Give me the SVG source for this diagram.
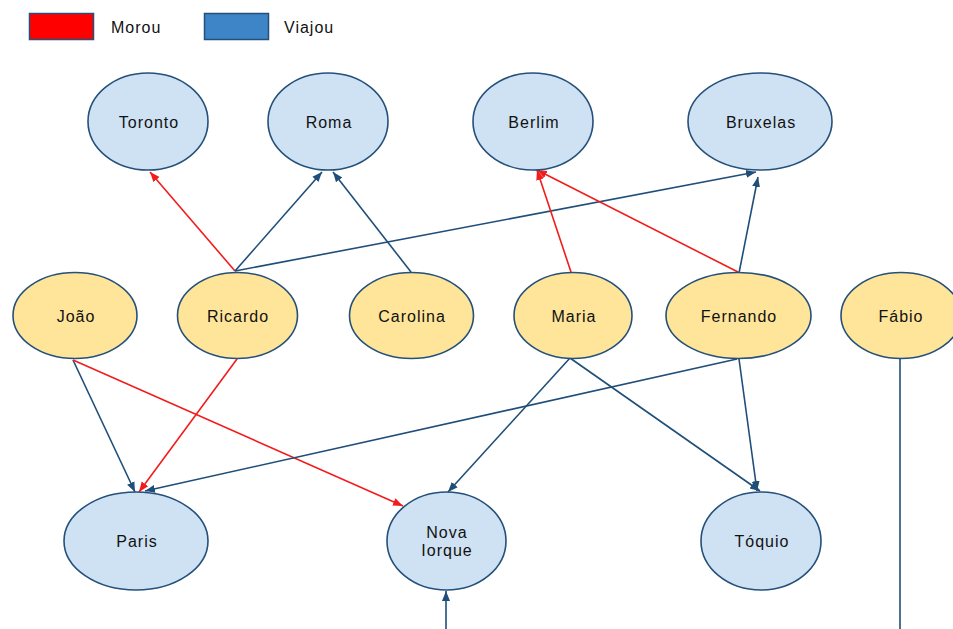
<svg xmlns="http://www.w3.org/2000/svg" width="953" height="629" viewBox="0 0 953 629">
<style>
text{font-family:"Liberation Sans",Arial,sans-serif;font-size:16px;letter-spacing:1px;fill:#111;text-anchor:middle}
.leg{text-anchor:start}
.city{fill:#cfe2f3;stroke:#24507a;stroke-width:1.6}
.person{fill:#ffe599;stroke:#24507a;stroke-width:1.6}
.v{stroke:#1f4e79;stroke-width:1.6;fill:none;marker-end:url(#ab)}
.m{stroke:#f21c1c;stroke-width:1.6;fill:none;marker-end:url(#ar)}
</style>
<defs>
<marker id="ab" viewBox="0 0 10 10" refX="10" refY="5" markerWidth="10" markerHeight="10" orient="auto" markerUnits="userSpaceOnUse"><path d="M0,1 L10,5 L0,9 z" fill="#1f4e79"/></marker>
<marker id="ar" viewBox="0 0 10 10" refX="10" refY="5" markerWidth="10" markerHeight="10" orient="auto" markerUnits="userSpaceOnUse"><path d="M0,1 L10,5 L0,9 z" fill="#f21c1c"/></marker>
</defs>
<rect width="953" height="629" fill="#fff"/>
<g id="legend">
<rect x="29.5" y="13.5" width="64" height="26" fill="#ff0000" stroke="#24507a" stroke-width="1.5"/>
<text class="leg" x="111" y="33">Morou</text>
<rect x="204.5" y="13.5" width="64" height="26" fill="#3d85c6" stroke="#24507a" stroke-width="1.5"/>
<text class="leg" x="284" y="33">Viajou</text>
</g>
<g id="connectors">
<line class="m" x1="235" y1="271" x2="150" y2="172"/>
<line class="v" x1="235" y1="271" x2="322" y2="172"/>
<line class="v" x1="235" y1="271" x2="756" y2="172"/>
<line class="v" x1="411" y1="272" x2="333" y2="172"/>
<line class="m" x1="571" y1="272" x2="537" y2="170"/>
<line class="m" x1="738" y1="272" x2="537" y2="170"/>
<line class="v" x1="739" y1="273" x2="758" y2="177"/>
<line class="v" x1="73" y1="360" x2="135" y2="492"/>
<line class="m" x1="73" y1="360" x2="403" y2="506"/>
<line class="m" x1="237" y1="359" x2="139" y2="492"/>
<line class="v" x1="737" y1="359" x2="145" y2="491"/>
<line class="v" x1="570" y1="358" x2="448" y2="492"/>
<line class="v" x1="570" y1="358" x2="760" y2="491"/>
<line class="v" x1="739" y1="359" x2="757" y2="491"/>
<line class="v" x1="446" y1="629" x2="446" y2="591"/>
<line stroke="#1f4e79" stroke-width="1.6" x1="900" y1="358" x2="900" y2="629"/>
</g>
<g id="toronto"><ellipse class="city" cx="148" cy="121.5" rx="60" ry="48.5"/><text x="149" y="128">Toronto</text></g>
<g id="roma"><ellipse class="city" cx="328" cy="121.5" rx="60" ry="48.5"/><text x="329" y="128">Roma</text></g>
<g id="berlim"><ellipse class="city" cx="533" cy="121.5" rx="60" ry="48.5"/><text x="534" y="128">Berlim</text></g>
<g id="bruxelas"><ellipse class="city" cx="760" cy="121.5" rx="72" ry="48.5"/><text x="761" y="128">Bruxelas</text></g>
<g id="joao"><ellipse class="person" cx="75" cy="315.5" rx="62" ry="43"/><text x="76" y="322">João</text></g>
<g id="ricardo"><ellipse class="person" cx="237.5" cy="315.5" rx="60" ry="43"/><text x="238" y="322">Ricardo</text></g>
<g id="carolina"><ellipse class="person" cx="411.5" cy="315.5" rx="62" ry="43"/><text x="412" y="322">Carolina</text></g>
<g id="maria"><ellipse class="person" cx="573" cy="315.5" rx="59" ry="43"/><text x="574" y="322">Maria</text></g>
<g id="fernando"><ellipse class="person" cx="738.5" cy="315.5" rx="72.5" ry="43"/><text x="739" y="322">Fernando</text></g>
<g id="fabio"><ellipse class="person" cx="901" cy="315.5" rx="60" ry="43"/><text x="901" y="322">Fábio</text></g>
<g id="paris"><ellipse class="city" cx="136" cy="541" rx="72" ry="49"/><text x="137" y="547">Paris</text></g>
<g id="novaiorque"><ellipse class="city" cx="446.5" cy="541" rx="59.5" ry="49"/><text x="447" y="538">Nova</text><text x="447" y="556">Iorque</text></g>
<g id="toquio"><ellipse class="city" cx="761" cy="541" rx="60" ry="49"/><text x="762" y="547">Tóquio</text></g>
</svg>
